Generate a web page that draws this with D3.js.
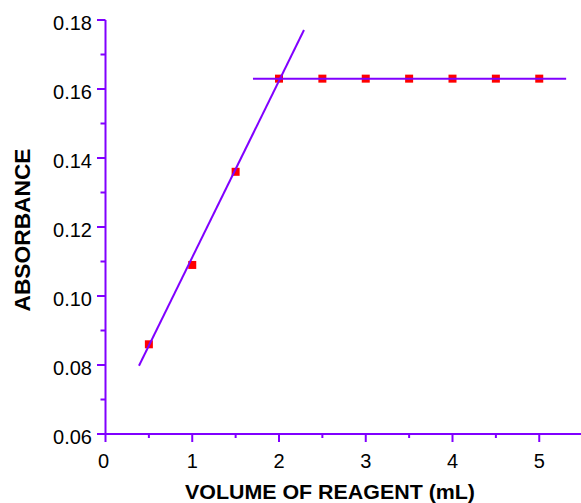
<!DOCTYPE html>
<html><head><meta charset="utf-8">
<script src="https://cdn.jsdelivr.net/npm/d3@7"></script>
<style>body{margin:0;background:#fff}svg{display:block}</style>
</head><body>
<script>
const volumes = [0.5, 1, 1.5, 2, 2.5, 3, 3.5, 4, 4.5, 5];
const absorbance = [0.086, 0.109, 0.136, 0.163, 0.163, 0.163, 0.163, 0.163, 0.163, 0.163];
const risingLine = [[0.386, 0.0798], [2.288, 0.1771]];
const plateauLine = [[1.70, 0.163], [5.31, 0.163]];
const xTicks = [0, 1, 2, 3, 4, 5];
const yTicks = [0.06, 0.08, 0.10, 0.12, 0.14, 0.16, 0.18];
const xLabel = "VOLUME OF REAGENT (mL)";
const yLabel = "ABSORBANCE";

const W = 581, H = 503;
const purple = "#8000ff";
const font = "Liberation Sans, Arial, Helvetica, sans-serif";
const svg = d3.select("body").append("svg").attr("width", W).attr("height", H);
const x = d3.scaleLinear().domain([0, 5]).range([105.5, 539.25]);
const y = d3.scaleLinear().domain([0.06, 0.18]).range([434, 20]);

// axes lines
svg.append("line").attr("x1", x(0)).attr("x2", W).attr("y1", y(0.06)).attr("y2", y(0.06))
  .attr("stroke", purple).attr("stroke-width", 2);
svg.append("line").attr("x1", x(0)).attr("x2", x(0)).attr("y1", y(0.18)).attr("y2", y(0.06))
  .attr("stroke", purple).attr("stroke-width", 2);

// x ticks
const xMinor = d3.range(0.5, 5.5, 1);
svg.selectAll(".xt").data(xTicks).enter().append("line")
  .attr("x1", d => x(d)).attr("x2", d => x(d)).attr("y1", y(0.06)).attr("y2", y(0.06) + 8)
  .attr("stroke", purple).attr("stroke-width", 2);
svg.selectAll(".xm").data(xMinor).enter().append("line")
  .attr("x1", d => x(d)).attr("x2", d => x(d)).attr("y1", y(0.06)).attr("y2", y(0.06) + 4)
  .attr("stroke", purple).attr("stroke-width", 2);
svg.selectAll(".xl").data(xTicks).enter().append("text")
  .attr("x", d => x(d) - (d === 0 ? 2 : 0)).attr("y", 467.5)
  .attr("text-anchor", "middle").attr("font-family", font)
  .attr("font-size", 20).attr("fill", "#000").text(d => d);

// y ticks
const yMinor = [0.07, 0.09, 0.11, 0.13, 0.15, 0.17];
svg.selectAll(".yt").data(yTicks).enter().append("line")
  .attr("x1", x(0) - 8.5).attr("x2", x(0)).attr("y1", d => y(d)).attr("y2", d => y(d))
  .attr("stroke", purple).attr("stroke-width", 2);
svg.selectAll(".ym").data(yMinor).enter().append("line")
  .attr("x1", x(0) - 5).attr("x2", x(0)).attr("y1", d => y(d)).attr("y2", d => y(d))
  .attr("stroke", purple).attr("stroke-width", 2);
svg.selectAll(".yl").data(yTicks).enter().append("text")
  .attr("x", 92).attr("y", d => y(d) + 10)
  .attr("text-anchor", "end").attr("font-family", font)
  .attr("font-size", 20).attr("fill", "#000").text(d => d3.format(".2f")(d));

// axis titles
svg.append("text").attr("x", 330).attr("y", 499).attr("text-anchor", "middle")
  .attr("font-family", font).attr("font-weight", "bold")
  .attr("font-size", 20).attr("textLength", 290).attr("lengthAdjust", "spacingAndGlyphs")
  .attr("fill", "#000").text(xLabel);
svg.append("text").attr("transform", "translate(30,230) rotate(-90)").attr("text-anchor", "middle")
  .attr("font-family", font).attr("font-weight", "bold")
  .attr("font-size", 22.5).attr("textLength", 163).attr("lengthAdjust", "spacingAndGlyphs")
  .attr("fill", "#000").text(yLabel);

// points
svg.selectAll(".pt").data(volumes).enter().append("rect")
  .attr("x", (d) => x(d) - 4).attr("y", (d, i) => y(absorbance[i]) - 4)
  .attr("width", 8).attr("height", 8).attr("fill", "#ff0000");

// fit lines
const line = d3.line().x(d => x(d[0])).y(d => y(d[1]));
svg.append("path").attr("d", line(risingLine)).attr("stroke", purple).attr("stroke-width", 2).attr("fill", "none");
svg.append("path").attr("d", line(plateauLine)).attr("stroke", purple).attr("stroke-width", 2).attr("fill", "none");
</script>
</body></html>
